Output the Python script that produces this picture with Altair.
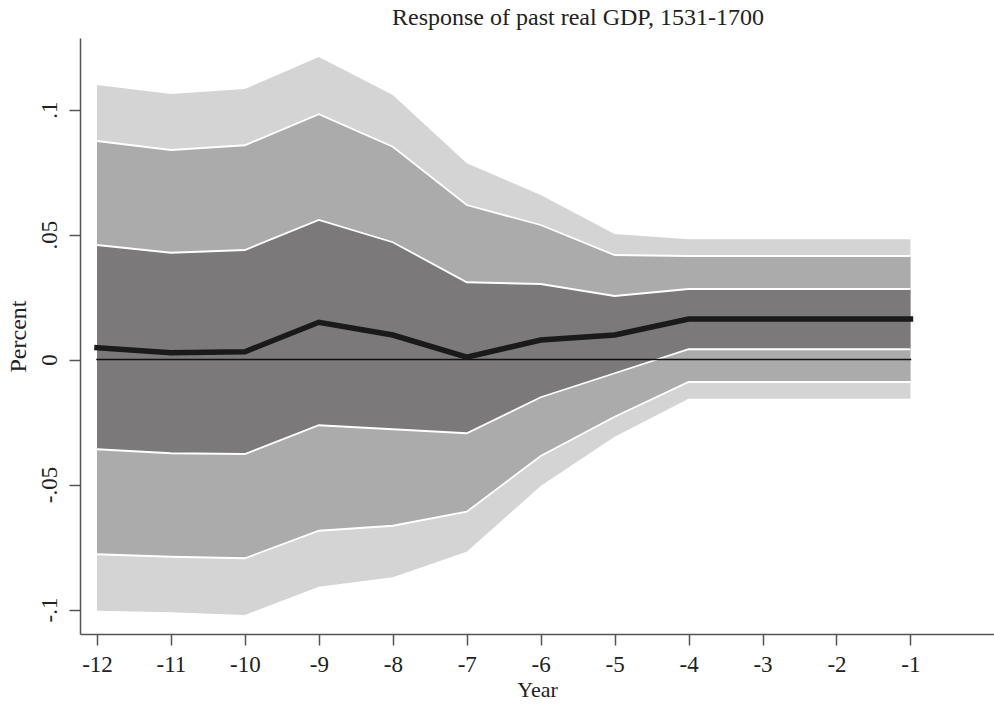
import altair as alt
import pandas as pd

years = [-12, -11, -10, -9, -8, -7, -6, -5, -4, -3, -2, -1]
point = [0.0047, 0.0027, 0.0031, 0.0149, 0.0098, 0.0009, 0.0078, 0.0098, 0.0162, 0.0162, 0.0162, 0.0162]
inner_hi = [0.0458, 0.0427, 0.0438, 0.0558, 0.0469, 0.0309, 0.0302, 0.0254, 0.0282, 0.0282, 0.0282, 0.0282]
inner_lo = [-0.0359, -0.0375, -0.0378, -0.0263, -0.0279, -0.0295, -0.0151, -0.0055, 0.0041, 0.0041, 0.0041, 0.0041]
mid_hi = [0.0874, 0.0838, 0.0857, 0.0981, 0.0851, 0.0618, 0.0538, 0.0418, 0.0414, 0.0414, 0.0414, 0.0414]
mid_lo = [-0.0779, -0.0789, -0.0795, -0.0685, -0.0665, -0.0609, -0.0386, -0.0229, -0.0090, -0.0090, -0.0090, -0.0090]
outer_hi = [0.1098, 0.1062, 0.1082, 0.1210, 0.1058, 0.0785, 0.0658, 0.0502, 0.0481, 0.0481, 0.0481, 0.0481]
outer_lo = [-0.1005, -0.1011, -0.1022, -0.0909, -0.0871, -0.0769, -0.0506, -0.0309, -0.0157, -0.0157, -0.0157, -0.0157]
y_ticks = [-0.1, -0.05, 0, 0.05, 0.1]

df = pd.DataFrame({
    "year": years, "point": point,
    "inner_hi": inner_hi, "inner_lo": inner_lo,
    "mid_hi": mid_hi, "mid_lo": mid_lo,
    "outer_hi": outer_hi, "outer_lo": outer_lo,
    "zero": [0.0] * len(years),
})

FONT = "Liberation Serif"
xscale = alt.Scale(domain=[-12.23, 0.13], nice=False, zero=False)
yscale = alt.Scale(domain=[-0.1098, 0.1286], nice=False, zero=False)

xaxis = alt.Axis(values=years, title="Year", grid=False, tickSize=11, labelPadding=8,
                 titlePadding=3, labelFontSize=23, titleFontSize=22,
                 labelExpr="(datum.value < 0 ? '-' : '') + abs(datum.value)")
yaxis = alt.Axis(values=y_ticks, title="Percent", grid=False,
                 tickSize=11, labelAngle=270, labelAlign="center", labelBaseline="bottom",
                 labelPadding=8, titlePadding=8, labelFontSize=23, titleFontSize=24,
                 labelExpr="(datum.value < 0 ? '-' : '') + replace(format(abs(datum.value), '.2~f'), '0.', '.')")

base = alt.Chart(df)
x = alt.X("year:Q", scale=xscale, axis=xaxis)

def band(lo, hi, color):
    return base.mark_area(color=color, opacity=1).encode(
        x=x, y=alt.Y(f"{lo}:Q", scale=yscale, axis=yaxis), y2=f"{hi}:Q")

def wline(col):
    return base.mark_line(color="white", strokeWidth=1.8).encode(
        x=x, y=alt.Y(f"{col}:Q", scale=yscale, axis=yaxis))

layers = [
    band("outer_lo", "outer_hi", "#d4d4d4"),
    band("mid_lo", "mid_hi", "#acabab"),
    band("inner_lo", "inner_hi", "#7b797a"),
    wline("mid_hi"), wline("mid_lo"), wline("inner_hi"), wline("inner_lo"),
    base.mark_line(color="#111111", strokeWidth=1.6, strokeCap="square").encode(
        x=x, y=alt.Y("zero:Q", scale=yscale, axis=yaxis)),
    base.mark_line(color="#1a1a1a", strokeWidth=5.5, strokeCap="square").encode(
        x=x, y=alt.Y("point:Q", scale=yscale, axis=yaxis)),
]

chart = alt.layer(*layers).properties(
    width=914, height=596,
    title=alt.TitleParams("Response of past real GDP, 1531-1700", font=FONT, fontSize=24,
                          fontWeight="normal", color="#222", anchor="middle", dx=41, offset=8),
    autosize=alt.AutoSizeParams(type="none"),
    padding={"left": 80, "top": 38, "right": 0, "bottom": 70},
).configure_view(stroke=None).configure_axis(
    labelFont=FONT, titleFont=FONT, labelColor="#222", titleColor="#222",
    titleFontWeight="normal", domainColor="#555", tickColor="#555",
    domainWidth=1.5, tickWidth=1.5,
)

chart.save("out.html", embed_options={"renderer": "svg", "actions": False})
